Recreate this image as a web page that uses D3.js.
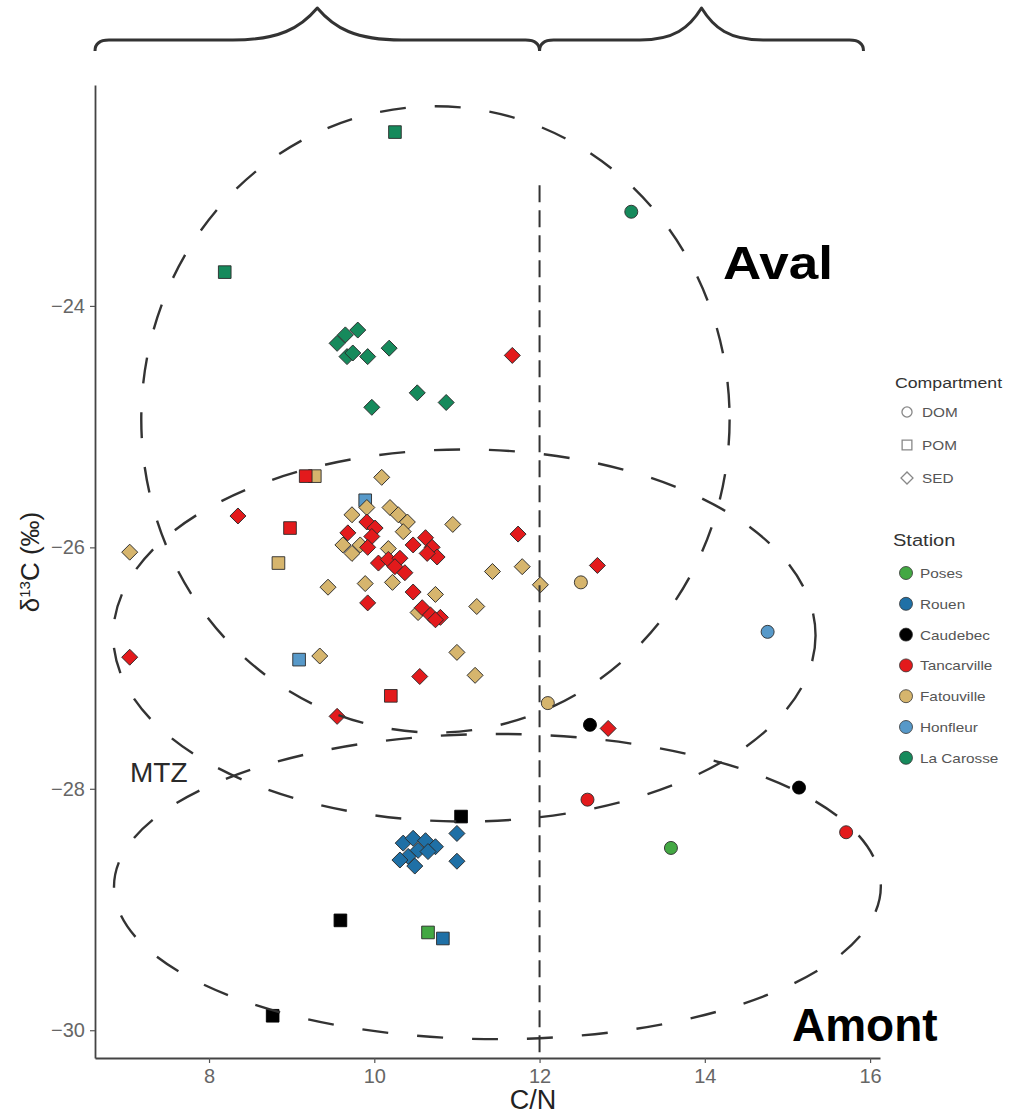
<!DOCTYPE html>
<html>
<head>
<meta charset="utf-8">
<script src="https://cdn.jsdelivr.net/npm/d3@7"></script>
<style>
  body { margin: 0; background: #fff; }
  svg { display: block; }
  text { font-family: "Liberation Sans", Arial, sans-serif; }
</style>
</head>
<body>
<svg id="chart" width="1010" height="1114"></svg>
<script>
// C/N ratio against δ13C of organic matter along the estuary, by station and compartment

const stations = ["Poses", "Rouen", "Caudebec", "Tancarville", "Fatouville", "Honfleur", "La Carosse"];
const stationColors = ["#43a843", "#1f70a6", "#000000", "#e31a1c", "#d6b56d", "#5799c9", "#168a5c"];
const compartments = ["DOM", "POM", "SED"];

// each sample: [compartment, C/N, δ13C]
const posesSamples = [
  ["DOM", 13.59, -28.49],
  ["POM", 10.65, -29.19]
];
const rouenSamples = [
  ["POM", 10.83, -29.24],
  ["SED", 10.35, -28.45], ["SED", 10.47, -28.41], ["SED", 10.62, -28.43], ["SED", 10.74, -28.48],
  ["SED", 10.41, -28.56], ["SED", 10.53, -28.51], ["SED", 10.65, -28.52], ["SED", 10.31, -28.59],
  ["SED", 10.49, -28.64], ["SED", 11.00, -28.37], ["SED", 11.00, -28.60]
];
const caudebecSamples = [
  ["DOM", 12.61, -27.47], ["DOM", 15.14, -27.99],
  ["POM", 11.05, -28.23], ["POM", 9.59, -29.09], ["POM", 8.77, -29.88]
];
const fatouvilleSamples = [
  ["DOM", 12.10, -27.29], ["DOM", 12.50, -26.29],
  ["POM", 9.28, -25.41], ["POM", 8.84, -26.13],
  ["SED", 7.04, -26.04], ["SED", 10.09, -25.42], ["SED", 9.91, -25.67], ["SED", 9.73, -25.73],
  ["SED", 10.19, -25.67], ["SED", 10.29, -25.73], ["SED", 10.40, -25.79], ["SED", 10.35, -25.87],
  ["SED", 9.62, -25.98], ["SED", 9.73, -26.05], ["SED", 9.83, -25.98], ["SED", 10.17, -26.01],
  ["SED", 10.22, -26.29], ["SED", 9.89, -26.30], ["SED", 9.44, -26.33], ["SED", 10.74, -26.39],
  ["SED", 10.53, -26.54], ["SED", 10.95, -25.81], ["SED", 11.43, -26.20], ["SED", 11.24, -26.49],
  ["SED", 11.79, -26.16], ["SED", 12.01, -26.31], ["SED", 9.34, -26.90], ["SED", 11.00, -26.87],
  ["SED", 11.22, -27.06]
];
const tancarvilleSamples = [
  ["DOM", 12.58, -28.09], ["DOM", 15.71, -28.36],
  ["POM", 9.17, -25.41], ["POM", 8.98, -25.84], ["POM", 10.20, -27.23],
  ["SED", 11.67, -24.41], ["SED", 8.35, -25.74], ["SED", 7.04, -26.91], ["SED", 9.55, -27.40],
  ["SED", 10.55, -27.07], ["SED", 11.74, -25.89], ["SED", 12.70, -26.15], ["SED", 12.83, -27.50],
  ["SED", 9.91, -25.79], ["SED", 10.01, -25.84], ["SED", 9.97, -25.91], ["SED", 9.68, -25.88],
  ["SED", 9.92, -26.00], ["SED", 10.47, -25.98], ["SED", 10.62, -25.92], ["SED", 10.70, -26.00],
  ["SED", 10.76, -26.08], ["SED", 10.64, -26.05], ["SED", 10.05, -26.13], ["SED", 10.17, -26.10],
  ["SED", 10.31, -26.09], ["SED", 10.25, -26.16], ["SED", 10.37, -26.21], ["SED", 9.92, -26.46],
  ["SED", 10.47, -26.37], ["SED", 10.58, -26.50], ["SED", 10.68, -26.56], ["SED", 10.80, -26.58],
  ["SED", 10.74, -26.60]
];
const honfleurSamples = [
  ["DOM", 14.76, -26.70],
  ["POM", 9.89, -25.61], ["POM", 9.09, -26.93]
];
const laCarosseSamples = [
  ["DOM", 13.11, -23.22],
  ["POM", 10.25, -22.56], ["POM", 8.19, -23.72],
  ["SED", 9.55, -24.31], ["SED", 9.65, -24.24], ["SED", 9.80, -24.20], ["SED", 9.67, -24.42],
  ["SED", 9.74, -24.39], ["SED", 9.92, -24.42], ["SED", 10.18, -24.35], ["SED", 9.97, -24.84],
  ["SED", 10.52, -24.72], ["SED", 10.87, -24.80]
];

const xTicks = [8, 10, 12, 14, 16];
const yTicks = [-30, -28, -26, -24];

// zone envelopes in data units: [label, centre C/N, centre δ13C, half-width C/N, half-height δ13C]
const zones = [
  ["Aval", 10.74, -24.94, 3.56, 2.594],
  ["MTZ", 11.09, -26.73, 4.25, 1.541],
  ["Amont", 11.49, -28.81, 4.64, 1.264]
];
const cnThreshold = 12;
const thresholdTop = -23.0;
// C/N spans grouped by the braces above the panel
const braceSpans = [[6.62, 12], [12, 15.92]];

// ---------------------------------------------------------------------------

const svg = d3.select("#chart");
const x = d3.scaleLinear().domain([6.62, 16.12]).range([95, 880]);
const y = d3.scaleLinear().domain([-30.23, -22.17]).range([1058, 85]);
const colour = d3.scaleOrdinal().domain(stations).range(stationColors);

const samplesByStation = [posesSamples, rouenSamples, caudebecSamples, tancarvilleSamples,
                          fatouvilleSamples, honfleurSamples, laCarosseSamples];
const drawOrder = ["La Carosse", "Honfleur", "Poses", "Rouen", "Caudebec", "Fatouville", "Tancarville"];
const points = [];
drawOrder.forEach(st => {
  const rows = samplesByStation[stations.indexOf(st)];
  rows.forEach(r => points.push({ station: st, comp: r[0], cn: r[1], d13c: r[2] }));
});

const shapePath = {
  DOM: d3.symbol(d3.symbolCircle, 133)(),
  POM: d3.symbol(d3.symbolSquare, 160)(),
  SED: d3.symbol(d3.symbolSquare, 128)()
};

// axes
const yAxis = d3.axisLeft(y).tickValues(yTicks).tickSize(5).tickSizeOuter(0).tickPadding(5);
const xAxis = d3.axisBottom(x).tickValues(xTicks).tickSize(5).tickSizeOuter(0).tickPadding(6);

const gy = svg.append("g").attr("transform", "translate(95,0)").call(yAxis);
const gx = svg.append("g").attr("transform", "translate(0,1058)").call(xAxis);
[gx, gy].forEach(g => {
  g.select(".domain").attr("stroke", "#444").attr("stroke-width", 1.8);
  g.selectAll(".tick line").attr("stroke", "#555").attr("stroke-width", 1.2);
  g.selectAll(".tick text").attr("fill", "#666").style("font-size", "20px")
    .style("font-family", "'Liberation Sans', Arial, sans-serif");
});

// axis titles
svg.append("text").attr("x", 533).attr("y", 1109).attr("text-anchor", "middle")
  .style("font-size", "27px").attr("fill", "#222").text("C/N");
const yTitle = svg.append("text").attr("transform", "translate(39,562) rotate(-90)")
  .attr("text-anchor", "middle").style("font-size", "26px").attr("fill", "#222");
yTitle.append("tspan").text("δ");
yTitle.append("tspan").attr("dy", -9).style("font-size", "15px").text("13");
yTitle.append("tspan").attr("dy", 9).text("C (‰)");

// samples
svg.append("g").selectAll("path.pt").data(points).join("path")
  .attr("class", "pt")
  .attr("d", d => shapePath[d.comp])
  .attr("transform", d => `translate(${x(d.cn)},${y(d.d13c)})` + (d.comp === "SED" ? " rotate(45)" : ""))
  .attr("fill", d => colour(d.station))
  .attr("stroke", d => d.station === "Caudebec" ? "#000" : "#2a2a2a")
  .attr("stroke-width", 0.9);

// zone envelopes
svg.append("g").selectAll("ellipse").data(zones).join("ellipse")
  .attr("cx", d => x(d[1]))
  .attr("cy", d => y(d[2]))
  .attr("rx", d => x(d[1] + d[3]) - x(d[1]))
  .attr("ry", d => y(d[2] - d[4]) - y(d[2]))
  .attr("fill", "none")
  .attr("stroke", "#333")
  .attr("stroke-width", 2.4)
  .attr("stroke-dasharray", "26 29");

// C/N = 12 threshold
svg.append("line")
  .attr("x1", x(cnThreshold)).attr("x2", x(cnThreshold))
  .attr("y1", y(thresholdTop)).attr("y2", y.range()[0])
  .attr("stroke", "#333").attr("stroke-width", 2).attr("stroke-dasharray", "17 8");

// braces above the panel
function bracePath(x0, x1) {
  const yb = 40, yp = 8, hook = 11;
  const m = (x0 + x1) / 2;
  const w = (x1 - x0) * 0.19;
  return `M${x0},${yb + hook} Q${x0},${yb} ${x0 + 14},${yb}` +
         ` L${m - w},${yb}` +
         ` C${m - w * 0.45},${yb} ${m - w * 0.2},${yb - 12} ${m},${yp}` +
         ` C${m + w * 0.2},${yb - 12} ${m + w * 0.45},${yb} ${m + w},${yb}` +
         ` L${x1 - 14},${yb} Q${x1},${yb} ${x1},${yb + hook}`;
}
svg.append("g").selectAll("path").data(braceSpans).join("path")
  .attr("d", d => bracePath(x(d[0]), x(d[1])))
  .attr("fill", "none").attr("stroke", "#333").attr("stroke-width", 3)
  .attr("stroke-linejoin", "round");

// zone labels
svg.append("text").attr("x", 723).attr("y", 279)
  .attr("textLength", 110).attr("lengthAdjust", "spacingAndGlyphs")
  .style("font-size", "46px").style("font-weight", "bold").attr("fill", "#000").text("Aval");
svg.append("text").attr("x", 792).attr("y", 1041)
  .style("font-size", "46px").style("font-weight", "bold").attr("fill", "#000").text("Amont");
svg.append("text").attr("x", 130).attr("y", 782)
  .style("font-size", "28px").attr("fill", "#2a2a2a").text("MTZ");

// legend (labels drawn slightly widened)
const leg = svg.append("g");
function legendText(tx, ty, size, colourFill, label) {
  leg.append("text").attr("transform", `translate(${tx},${ty}) scale(1.18,1)`)
    .style("font-size", size + "px").attr("fill", colourFill).text(label);
}
legendText(895, 388, 15, "#333", "Compartment");
compartments.forEach((c, i) => {
  const cy = 412 + i * 33;
  const sz = { DOM: 80, POM: 95, SED: 72 }[c];
  leg.append("path")
    .attr("d", d3.symbol(c === "DOM" ? d3.symbolCircle : d3.symbolSquare, sz)())
    .attr("transform", `translate(907,${cy})` + (c === "SED" ? " rotate(45)" : ""))
    .attr("fill", "none").attr("stroke", "#888").attr("stroke-width", 1.3);
  legendText(922, cy + 5, 13, "#555", c);
});
legendText(893, 546, 17, "#333", "Station");
stations.forEach((s, i) => {
  const cy = 573 + i * 30.8;
  leg.append("circle").attr("cx", 906).attr("cy", cy).attr("r", 6.5)
    .attr("fill", colour(s)).attr("stroke", "#333").attr("stroke-width", 0.8);
  legendText(920, cy + 5, 13, "#555", s);
});
</script>
</body>
</html>
